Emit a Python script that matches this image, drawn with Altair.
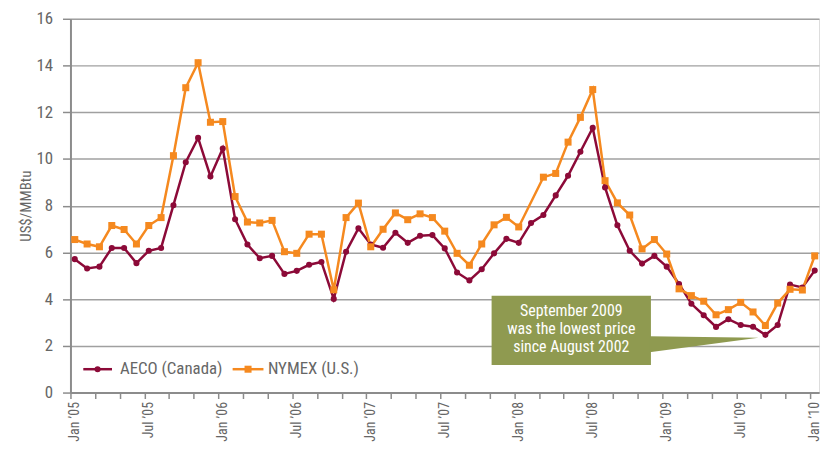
import altair as alt
import pandas as pd

# ---------------- data ----------------
MONTH_INDEX = list(range(61))  # Jan 2005 .. Jan 2010
TICK_LABELS = ["Jan ’05", "Jul ’05", "Jan ’06", "Jul ’06", "Jan ’07", "Jul ’07",
               "Jan ’08", "Jul ’08", "Jan ’09", "Jul ’09", "Jan ’10"]
SERIES = ["AECO (Canada)", "NYMEX (U.S.)"]
AECO = [5.71, 5.31, 5.39, 6.19, 6.19, 5.54, 6.07, 6.19, 8.02, 9.86, 10.90, 9.25,
        10.45, 7.42, 6.34, 5.75, 5.85, 5.08, 5.21, 5.47, 5.59, 4.01, 6.03, 7.03,
        6.34, 6.20, 6.84, 6.41, 6.71, 6.74, 6.17, 5.14, 4.80, 5.28, 5.96, 6.58,
        6.41, 7.26, 7.60, 8.44, 9.28, 10.31, 11.33, 8.78, 7.16, 6.07, 5.52, 5.85,
        5.39, 4.65, 3.80, 3.31, 2.81, 3.14, 2.89, 2.82, 2.47, 2.89, 4.62, 4.50,
        5.22]
NYMEX = [6.55, 6.36, 6.24, 7.15, 6.98, 6.36, 7.15, 7.49, 10.14, 13.05, 14.12, 11.57,
         11.60, 8.39, 7.30, 7.26, 7.37, 6.03, 5.96, 6.78, 6.78, 4.40, 7.49, 8.11,
         6.24, 6.99, 7.69, 7.40, 7.65, 7.49, 6.91, 5.96, 5.45, 6.36, 7.18, 7.50,
         7.09, None, 9.22, 9.38, 10.72, 11.78, 12.97, 9.07, 8.12, 7.60, 6.15, 6.55,
         5.93, 4.44, 4.15, 3.91, 3.33, 3.55, 3.86, 3.45, 2.87, 3.83, 4.42, 4.39,
         5.85]
Y_TICKS = [0, 2, 4, 6, 8, 10, 12, 14, 16]
CALLOUT_LINES = ["September 2009", "was the lowest price", "since August 2002"]

COLORS = ["#8c0a38", "#f5891f"]
SHAPES = ["circle", "square"]
GREY_TXT = "#666666"
OLIVE = "#8f9a50"
FONT = "Liberation Sans Narrow, Roboto Condensed, DejaVu Sans Condensed, Arial Narrow, sans-serif"

rows = []
for name, vals in zip(SERIES, [AECO, NYMEX]):
    for m, v in zip(MONTH_INDEX, vals):
        if v is not None:
            rows.append({"m": m, "v": v, "series": name})
df = pd.DataFrame(rows)

xscale = alt.Scale(domain=[-0.35, 60.35], nice=False, zero=False)
yscale = alt.Scale(domain=[0, 16], nice=False)
cscale = alt.Scale(domain=SERIES, range=COLORS)
sscale = alt.Scale(domain=SERIES, range=SHAPES)
zscale = alt.Scale(domain=SERIES, range=[38, 50])

label_arr = "[" + ",".join("'" + t + "'" for t in TICK_LABELS) + "]"
label_expr = f"datum.value % 6 == 0 ? {label_arr}[datum.value / 6] : ''"

x_axis = alt.Axis(values=list(range(0, 61, 2)), labelExpr=label_expr, labelAngle=270,
                  tickOffset=-4.4, labelOffset=4.4, grid=False,
                  domainColor="#8c8c8c", domainWidth=2, tickColor="#8c8c8c",
                  tickWidth=1.5, tickSize=6, labelFontSize=14, labelColor=GREY_TXT,
                  labelFont=FONT, labelPadding=3, labelOverlap=False, labelFlush=False,
                  labelBound=False, title=None)
y_axis = alt.Axis(values=Y_TICKS, title="US$/MMBtu", grid=True, gridColor="#a0a0a0",
                  gridWidth=1.5, domainColor="#8c8c8c", domainWidth=2,
                  tickColor="#8c8c8c", tickWidth=1.5, tickSize=8, labelFontSize=17,
                  labelColor=GREY_TXT, labelFont=FONT, labelPadding=10,
                  titleFont=FONT, titleFontSize=15, titleFontWeight="normal",
                  titleColor=GREY_TXT, titlePadding=3)


def X(field):
    return alt.X(f"{field}:Q", scale=xscale, axis=x_axis)


def Y(field):
    return alt.Y(f"{field}:Q", scale=yscale, axis=y_axis)


lines = alt.Chart(df).mark_line(strokeWidth=2.5).encode(
    x=X("m"), y=Y("v"),
    color=alt.Color("series:N", scale=cscale, legend=None),
    detail="series:N",
)
points = alt.Chart(df).mark_point(filled=True, opacity=1).encode(
    x=X("m"), y=Y("v"),
    color=alt.Color("series:N", scale=cscale, legend=None),
    shape=alt.Shape("series:N", scale=sscale, legend=None),
    size=alt.Size("series:N", scale=zscale, legend=None),
)

# callout box (annotation, positioned in data units)
box_df = pd.DataFrame([{"x": 33.8, "x2": 46.72, "y": 4.14, "y2": 1.18}])
box = alt.Chart(box_df).mark_rect(color=OLIVE).encode(
    x=X("x"), x2="x2:Q", y=Y("y"), y2="y2:Q",
)
tri_df = pd.DataFrame([{"x": 46.6, "y": 2.41, "y2": 1.73},
                       {"x": 55.44, "y": 2.35, "y2": 2.35}])
tri = alt.Chart(tri_df).mark_area(color=OLIVE, opacity=1).encode(
    x=X("x"), y=Y("y"), y2="y2:Q",
)
txt_df = pd.DataFrame({"t": CALLOUT_LINES, "x": [40.26] * 3, "y": [3.26, 2.49, 1.72]})
callout_txt = alt.Chart(txt_df).mark_text(
    color="white", font=FONT, fontSize=16, align="center", baseline="alphabetic"
).encode(
    x=X("x"), y=Y("y"), text="t:N",
)

# manual legend (line + marker + label)
leg_df = pd.DataFrame({
    "series": SERIES,
    "x0": [0.69, 12.8], "x1": [3.02, 15.3], "xm": [1.85, 14.05], "xt": [3.66, 15.66],
    "y": [1.0, 1.0],
})
leg_rule = alt.Chart(leg_df).mark_rule(strokeWidth=2.5).encode(
    x=X("x0"), x2="x1:Q", y=Y("y"),
    color=alt.Color("series:N", scale=cscale, legend=None),
)
leg_pt = alt.Chart(leg_df).mark_point(filled=True, opacity=1).encode(
    x=X("xm"), y=Y("y"),
    color=alt.Color("series:N", scale=cscale, legend=None),
    shape=alt.Shape("series:N", scale=sscale, legend=None),
    size=alt.Size("series:N", scale=zscale, legend=None),
)
leg_txt = alt.Chart(leg_df).mark_text(
    color=GREY_TXT, font=FONT, fontSize=17, align="left", baseline="middle"
).encode(
    x=X("xt"), y=Y("y"), text="series:N",
)

chart = alt.layer(
    lines, box, tri, callout_txt, points, leg_rule, leg_pt, leg_txt
).properties(
    width=755, height=377,
    autosize=alt.AutoSizeParams(type="none"),
    padding={"left": 63, "top": 9, "right": 2, "bottom": 50},
).configure_view(stroke=None).configure(background="white")

chart.save("out.html", embed_options={"renderer": "svg", "actions": False})
